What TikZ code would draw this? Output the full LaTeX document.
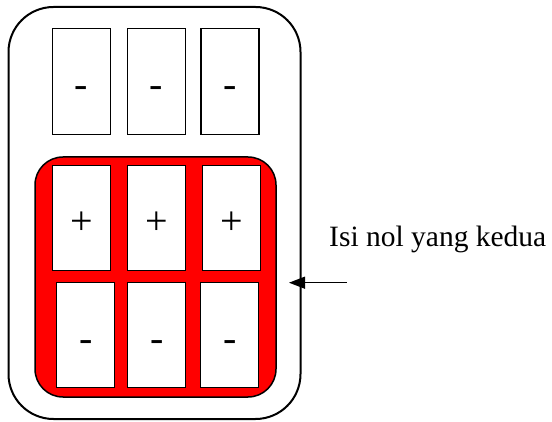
\documentclass[tikz,border=0pt]{standalone}
\usepackage{fontspec}
\setmainfont{Liberation Serif}
\usetikzlibrary{arrows.meta}
\begin{document}
\begin{tikzpicture}[x=1pt,y=-1pt,
  cell/.style={draw,line width=1.3pt,fill=white,inner sep=0pt,minimum width=58pt,minimum height=105pt,
    font=\fontsize{40}{40}\selectfont,text height=33pt,text depth=0pt}]
\useasboundingbox (0,0) rectangle (552,422);
% battery case and the filled second zero
\draw[line width=2pt,rounded corners=45pt] (8.5,7) rectangle (300.5,419);
\draw[line width=1.5pt,fill=red,rounded corners=28pt] (35,157) rectangle (276,397);
% top row
\node[cell,minimum height=106pt] (t1) at (81.3,81.5) {-};
\node[cell,minimum height=106pt] (t2) at (156.5,81.5) {-};
\node[cell,minimum height=106pt] (t3) at (230,81.5) {-};
% plus row
\node[cell] (p1) at (81.5,218.3) {+};
\node[cell] (p2) at (156.7,218.3) {+};
\node[cell] (p3) at (231.8,218.3) {+};
% minus row
\node[cell] (m1) at (85.7,335.3) {-};
\node[cell] (m2) at (156.7,335.3) {-};
\node[cell] (m3) at (229.8,335.3) {-};
% pointer
\node[anchor=base west,inner sep=0pt,font=\fontsize{29.5}{30}\selectfont] (note) at (329,246.7) {Isi nol yang kedua};
\coordinate (tail) at (346.7,282.7);\coordinate (tip) at (289,282.7);
\draw[-{Triangle[length=16pt,width=12pt]},line width=1.3pt] (tail) -- (tip);
\end{tikzpicture}
\end{document}
